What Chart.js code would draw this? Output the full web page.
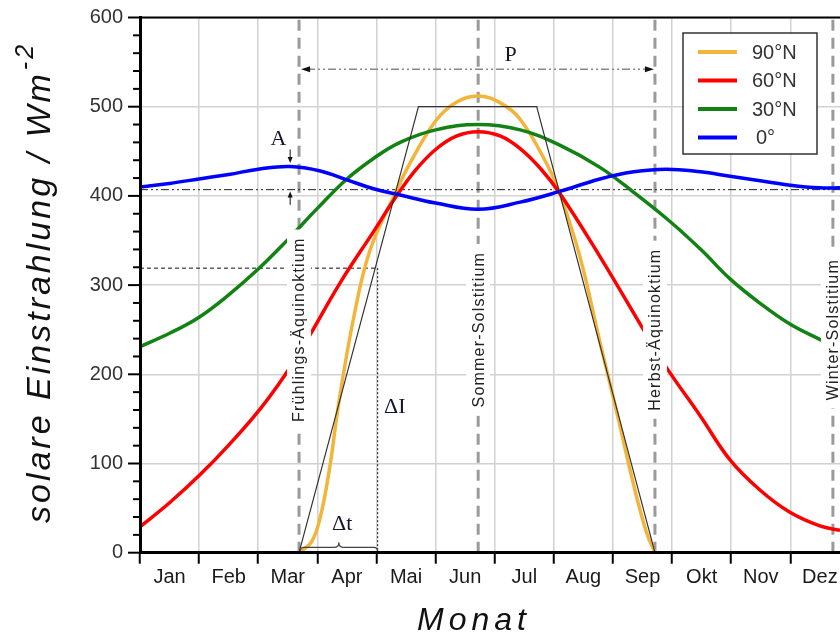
<!DOCTYPE html>
<html lang="de">
<head>
<meta charset="utf-8">
<title>Solare Einstrahlung</title>
<script src="https://cdn.jsdelivr.net/npm/chart.js@4.4.1/dist/chart.umd.min.js"></script>
<style>
  html, body { margin: 0; padding: 0; background: #fff; overflow: hidden; }
  #wrap { width: 840px; height: 635px; }
</style>
</head>
<body>
<div id="wrap"><canvas id="chart" width="840" height="635"></canvas></div>
<script>
// --- 1. DATEN (x = Monat als Dezimalzahl, 0 = 1. Jan) ---
const MONTHS = ['Jan', 'Feb', 'Mar', 'Apr', 'Mai', 'Jun', 'Jul', 'Aug', 'Sep', 'Okt', 'Nov', 'Dez'];
const Y_TICKS = [0, 20, 40, 60, 80, 100, 120, 140, 160, 180, 200, 220, 240, 260, 280, 300,
                 320, 340, 360, 380, 400, 420, 440, 460, 480, 500, 520, 540, 560, 580, 600];

const X_90N = [2.69, 2.90, 3.05, 3.21, 3.36, 3.61, 3.89, 4.31, 4.57, 5.00, 5.35, 5.72, 6.10, 6.43, 6.88, 7.10, 7.44, 7.78, 8.07, 8.35, 8.57, 8.71];
const Y_90N = [0, 12, 40, 96, 167, 262, 339, 402, 437, 484, 505, 512, 504, 486, 436, 403, 332, 236, 156, 76, 22, 0];

const X_60N = [0, 0.5, 1.01, 1.52, 2.03, 2.45, 2.82, 3.38, 3.95, 4.31, 4.65, 5.00, 5.35, 5.72, 6.10, 6.43, 6.77, 7.10, 7.78, 8.49, 8.88, 9.48, 9.98, 10.49, 11.00, 11.50, 11.84];
const Y_60N = [29, 56, 87, 122, 161, 199, 238, 302, 360, 397, 428, 452, 467, 472, 467, 453, 431, 403, 332, 253, 210, 153, 104, 70, 45, 30, 25];

const X_30N = [0, 0.5, 1.0, 1.5, 2.0, 2.5, 3.0, 3.5, 3.95, 4.4, 5.0, 5.72, 6.43, 7.1, 7.78, 8.35, 8.97, 9.5, 9.98, 10.5, 11.0, 11.53];
const Y_30N = [231, 246, 264, 289, 318, 351, 386, 419, 442, 460, 474, 480, 474, 457, 432, 404, 371, 339, 307, 279, 256, 238];

const X_0 = [0, 0.5, 1.0, 1.5, 2.0, 2.54, 3.05, 3.5, 3.95, 4.4, 5.0, 5.72, 6.43, 7.1, 7.78, 8.35, 8.9, 9.48, 9.98, 10.49, 11.0, 11.5, 11.84];
const Y_0 = [410, 414, 419, 424, 430, 433, 428, 418, 408, 401, 392, 385, 393, 405, 419, 427, 430, 427, 422, 417, 412, 409, 409];

// Trapez-Naeherung fuer 90°N
const TRAPEZ_X = [2.69, 4.71, 6.71, 8.71];
const TRAPEZ_Y = [0, 500, 500, 0];

// Aequinoktien / Solstitien
const EVENT_X = [2.69, 5.72, 8.71, 11.72];
const EVENT_LABELS = ['Frühlings-Äquinoktium', 'Sommer-Solstitium', 'Herbst-Äquinoktium', 'Winter-Solstitium'];

const MEAN_0 = 407;          // Mittelwert am Aequator
const AMP_PEAK = 437;        // Pfeil A oben (Spitze)
const P_LEVEL = 542;         // Hoehe der Periode-Linie
const DI_LEVEL = 319;        // Delta I
const DT_END = 4.02;         // Ende Delta t

const X_MAX = 11.84;
const SERIES_LABELS = ['90°N', '60°N', '30°N', '0°'];
const SERIES_COLORS = ['#f2b53a', '#ff0000', '#128212', '#0000ff'];

// --- 2. HILFSFUNKTIONEN ---
const pts = (xs, ys) => xs.map((x, i) => ({ x: x, y: ys[i] }));

function eventLinePoints() {
    const out = [];
    EVENT_X.forEach(m => {
        out.push({ x: m, y: 0 }, { x: m, y: 600 }, { x: m, y: null });
    });
    return out;
}

const SANS = "'Liberation Sans', Arial, sans-serif";
const SERIF = "'Liberation Serif', 'Times New Roman', serif";

function arrowHead(ctx, tx, ty, dx, dy, len, half) {
    // Spitze bei (tx, ty), Richtung (dx, dy)
    ctx.beginPath();
    ctx.moveTo(tx, ty);
    ctx.lineTo(tx - dx * len - dy * half, ty - dy * len + dx * half);
    ctx.lineTo(tx - dx * len + dy * half, ty - dy * len - dx * half);
    ctx.closePath();
    ctx.fill();
}

// --- 3. PLUGIN FUER BESCHRIFTUNGEN ---
const annotations = {
    id: 'annotations',
    afterDatasetsDraw(chart) {
        const { ctx, scales: { x, y } } = chart;
        ctx.save();

        // Beschriftung der Ereignislinien (weisser Hintergrund)
        ctx.font = '16px ' + SANS;
        ctx.letterSpacing = '1.2px';
        EVENT_X.forEach((m, i) => {
            const cx = x.getPixelForValue(m);
            const cy = y.getPixelForValue(250);
            const w = ctx.measureText(EVENT_LABELS[i]).width;
            ctx.save();
            ctx.translate(cx, cy);
            ctx.rotate(-Math.PI / 2);
            ctx.fillStyle = '#fff';
            ctx.fillRect(-w / 2 - 8, -12, w + 16, 24);
            ctx.fillStyle = '#222';
            ctx.textAlign = 'center';
            ctx.textBaseline = 'middle';
            ctx.fillText(EVENT_LABELS[i], 0, 1);
            ctx.restore();
        });
        ctx.letterSpacing = '0px';

        // Periode P
        const p1 = x.getPixelForValue(EVENT_X[0]) + 2;
        const p2 = x.getPixelForValue(EVENT_X[2]) - 1;
        const py = y.getPixelForValue(P_LEVEL);
        ctx.strokeStyle = '#888';
        ctx.lineWidth = 1.5;
        ctx.setLineDash([8, 3, 2, 3, 2, 3]);
        ctx.beginPath();
        ctx.moveTo(p1 + 6, py);
        ctx.lineTo(p2 - 6, py);
        ctx.stroke();
        ctx.setLineDash([]);
        ctx.fillStyle = '#111';
        arrowHead(ctx, p1, py, -1, 0, 9, 3);
        arrowHead(ctx, p2, py, 1, 0, 9, 3);

        // Amplitude A
        const ax = x.getPixelForValue(2.54);
        ctx.strokeStyle = '#111';
        ctx.lineWidth = 1;
        ctx.beginPath();
        ctx.moveTo(ax, y.getPixelForValue(452));
        ctx.lineTo(ax, y.getPixelForValue(AMP_PEAK) - 4);
        ctx.moveTo(ax, y.getPixelForValue(390));
        ctx.lineTo(ax, y.getPixelForValue(MEAN_0 - 2) + 4);
        ctx.stroke();
        arrowHead(ctx, ax, y.getPixelForValue(AMP_PEAK), 0, 1, 6, 2.5);
        arrowHead(ctx, ax, y.getPixelForValue(MEAN_0 - 2), 0, -1, 6, 2.5);

        // Geschweifte Klammer fuer Delta t
        const b1 = x.getPixelForValue(EVENT_X[0]) + 1;
        const b2 = x.getPixelForValue(DT_END);
        const bm = (b1 + b2) / 2;
        const yb = y.getPixelForValue(6);
        ctx.strokeStyle = '#444';
        ctx.lineWidth = 1.2;
        ctx.beginPath();
        ctx.moveTo(b1, yb + 4);
        ctx.quadraticCurveTo(b1, yb, b1 + 4, yb);
        ctx.lineTo(bm - 4, yb);
        ctx.quadraticCurveTo(bm, yb, bm, yb - 5);
        ctx.quadraticCurveTo(bm, yb, bm + 4, yb);
        ctx.lineTo(b2 - 4, yb);
        ctx.quadraticCurveTo(b2, yb, b2, yb + 4);
        ctx.stroke();

        // Textmarken (Serifenschrift)
        ctx.fillStyle = '#14142a';
        ctx.textAlign = 'center';
        ctx.textBaseline = 'middle';
        ctx.font = '22px ' + SERIF;
        ctx.fillText('P', x.getPixelForValue(6.27), y.getPixelForValue(558));
        ctx.fillText('A', x.getPixelForValue(2.34), y.getPixelForValue(463));
        ctx.fillText('ΔI', x.getPixelForValue(4.31), y.getPixelForValue(163));
        ctx.fillText('Δt', x.getPixelForValue(3.42), y.getPixelForValue(32));

        // Legende
        const lx = 683, ly = 33, lw = 134, lh = 121;
        ctx.fillStyle = '#fff';
        ctx.fillRect(lx, ly, lw, lh);
        ctx.strokeStyle = '#333';
        ctx.lineWidth = 1.5;
        ctx.strokeRect(lx, ly, lw, lh);
        ctx.font = '20px ' + SANS;
        ctx.textAlign = 'left';
        chart.data.datasets.slice(0, 4).forEach((ds, i) => {
            const yy = ly + 19 + i * 28.5;
            ctx.strokeStyle = ds.borderColor;
            ctx.lineWidth = 4;
            ctx.beginPath();
            ctx.moveTo(lx + 15, yy);
            ctx.lineTo(lx + 54, yy);
            ctx.stroke();
            ctx.fillStyle = '#333';
            ctx.fillText(ds.label, lx + 69 + (i === 3 ? 4 : 0), yy + 1);
        });
        ctx.restore();
    },
    afterDraw(chart) {
        const { ctx, chartArea: area, scales: { y } } = chart;
        ctx.save();

        // Rahmen oben
        ctx.strokeStyle = '#000';
        ctx.lineWidth = 2;
        ctx.beginPath();
        ctx.moveTo(area.left, area.top);
        ctx.lineTo(area.right, area.top);
        ctx.stroke();

        // Teilstriche der y-Achse (gross bei 100er Schritten)
        ctx.lineWidth = 2;
        Y_TICKS.forEach(v => {
            const yy = y.getPixelForValue(v);
            const len = v % 100 === 0 ? 12 : 7;
            ctx.beginPath();
            ctx.moveTo(area.left - len, yy);
            ctx.lineTo(area.left, yy);
            ctx.stroke();
        });

        // Achsentitel
        ctx.fillStyle = '#111';
        ctx.textAlign = 'left';
        ctx.textBaseline = 'alphabetic';
        ctx.letterSpacing = '3px';
        ctx.font = 'italic 34px ' + SANS;
        ctx.save();
        ctx.translate(50, 523);
        ctx.rotate(-Math.PI / 2);
        const main = 'solare Einstrahlung / Wm';
        ctx.fillText(main, 0, 0);
        const w = ctx.measureText(main).width;
        ctx.font = 'italic 25px ' + SANS;
        ctx.fillText('-2', w + 1, -17);
        ctx.restore();

        ctx.letterSpacing = '5px';
        ctx.font = 'italic 32px ' + SANS;
        ctx.fillText('Monat', 417, 630);
        ctx.restore();
    }
};

// --- 4. DIAGRAMM ---
Chart.defaults.font.family = SANS;

const lineStyle = (label, xs, ys, color, order) => ({
    label: label,
    data: pts(xs, ys),
    borderColor: color,
    borderWidth: 3.5,
    pointRadius: 0,
    tension: 0.4,
    order: order
});

new Chart(document.getElementById('chart').getContext('2d'), {
    type: 'line',
    data: {
        datasets: [
            lineStyle(SERIES_LABELS[0], X_90N, Y_90N, SERIES_COLORS[0], 4),
            lineStyle(SERIES_LABELS[1], X_60N, Y_60N, SERIES_COLORS[1], 3),
            lineStyle(SERIES_LABELS[2], X_30N, Y_30N, SERIES_COLORS[2], 2),
            lineStyle(SERIES_LABELS[3], X_0, Y_0, SERIES_COLORS[3], 1),
            {   // Trapez
                data: pts(TRAPEZ_X, TRAPEZ_Y),
                borderColor: '#333', borderWidth: 1.2, pointRadius: 0, order: 0
            },
            {   // Ereignislinien
                data: eventLinePoints(),
                borderColor: '#9a9a9a', borderWidth: 3, borderDash: [11, 7],
                pointRadius: 0, spanGaps: false, order: 10
            },
            {   // Mittelwert 0°
                data: [{ x: 0, y: MEAN_0 }, { x: X_MAX, y: MEAN_0 }],
                borderColor: '#222', borderWidth: 1, borderDash: [8, 3, 2, 3, 2, 3],
                pointRadius: 0, order: 6
            },
            {   // Delta I waagerecht
                data: [{ x: 0, y: DI_LEVEL }, { x: DT_END, y: DI_LEVEL }],
                borderColor: '#111', borderWidth: 1, borderDash: [4, 3],
                pointRadius: 0, order: 6
            },
            {   // Delta I senkrecht
                data: [{ x: DT_END, y: DI_LEVEL }, { x: DT_END, y: 0 }],
                borderColor: '#111', borderWidth: 1, borderDash: [2, 2],
                pointRadius: 0, order: 6
            }
        ]
    },
    options: {
        responsive: false,
        animation: false,
        layout: { padding: { top: 17.5, right: 0, left: 0, bottom: 0 } },
        plugins: { legend: { display: false }, tooltip: { enabled: false } },
        scales: {
            x: {
                type: 'linear',
                min: 0,
                max: X_MAX,
                afterBuildTicks: scale => { scale.ticks = MONTHS.map((_, i) => ({ value: i })); },
                afterFit: scale => { scale.height = 82.3; },
                ticks: {
                    autoSkip: false,
                    maxRotation: 0,
                    labelOffset: 700 / X_MAX / 2,
                    padding: 2,
                    color: '#1a1a1a',
                    font: { size: 20 },
                    callback: v => MONTHS[v]
                },
                grid: { color: '#d2d2d2', lineWidth: 1.5, tickColor: '#000', tickWidth: 2, tickLength: 11 },
                border: { color: '#000', width: 3, z: 1 }
            },
            y: {
                min: 0,
                max: 600,
                afterBuildTicks: scale => { scale.ticks = Y_TICKS.map(v => ({ value: v })); },
                afterFit: scale => { scale.width = 140; },
                ticks: {
                    autoSkip: false,
                    padding: 5,
                    color: '#333',
                    font: { size: 20 },
                    callback: v => (v % 100 === 0 ? v : '')
                },
                grid: {
                    color: c => (c.tick && c.tick.value % 100 === 0 ? '#d2d2d2' : 'rgba(0,0,0,0)'),
                    lineWidth: 1.5,
                    tickColor: 'rgba(0,0,0,0)',
                    tickLength: 12
                },
                border: { color: '#000', width: 3, z: 1 }
            }
        }
    },
    plugins: [annotations]
});
</script>
</body>
</html>
